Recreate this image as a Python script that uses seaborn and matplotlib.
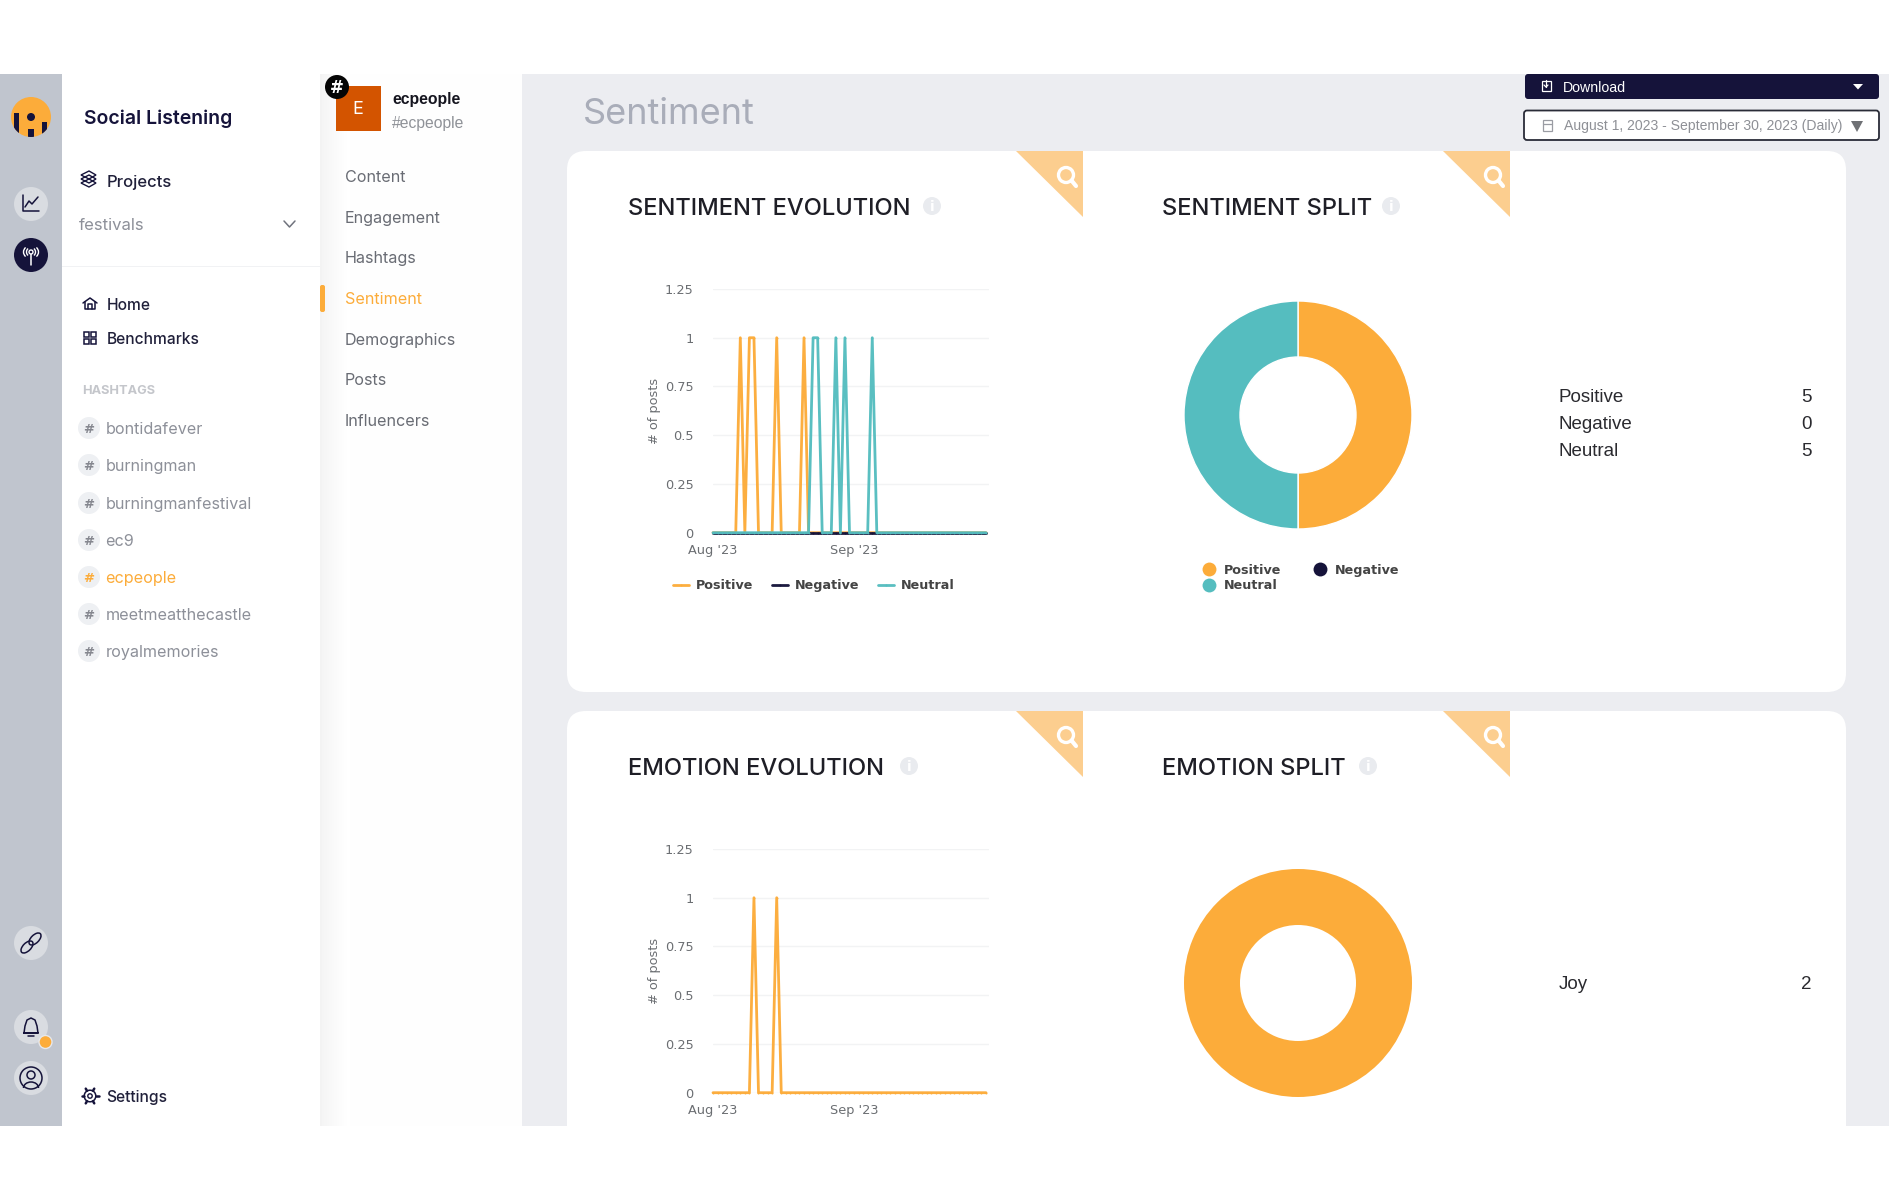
import matplotlib
matplotlib.use("Agg")
import matplotlib.pyplot as plt
import numpy as np
import pandas as pd
import seaborn as sns
from matplotlib.lines import Line2D
from matplotlib.patches import Circle, Ellipse, FancyBboxPatch, Polygon, Rectangle, Arc

# ---------- data ----------
days = pd.date_range("2023-08-01", "2023-09-30", freq="D")
positive = [0,0,0,0,0,0,1,0,1,1,0,0,0,0,1,0,0,0,0,0,1,0,0,0,0,0,0,0,0,0,0,
            0,0,0,0,0,0,0,0,0,0,0,0,0,0,0,0,0,0,0,0,0,0,0,0,0,0,0,0,0,0]
negative = [0,0,0,0,0,0,0,0,0,0,0,0,0,0,0,0,0,0,0,0,0,0,0,0,0,0,0,0,0,0,0,
            0,0,0,0,0,0,0,0,0,0,0,0,0,0,0,0,0,0,0,0,0,0,0,0,0,0,0,0,0,0]
neutral  = [0,0,0,0,0,0,0,0,0,0,0,0,0,0,0,0,0,0,0,0,0,0,1,1,0,0,0,1,0,1,0,
            0,0,0,0,1,0,0,0,0,0,0,0,0,0,0,0,0,0,0,0,0,0,0,0,0,0,0,0,0,0]
joy      = [0,0,0,0,0,0,0,0,0,1,0,0,0,0,1,0,0,0,0,0,0,0,0,0,0,0,0,0,0,0,0,
            0,0,0,0,0,0,0,0,0,0,0,0,0,0,0,0,0,0,0,0,0,0,0,0,0,0,0,0,0,0]
sentiment_labels = ["Positive", "Negative", "Neutral"]
sentiment_totals = [5, 0, 5]
emotion_labels = ["Joy"]
emotion_totals = [2]
y_ticks = [0, 0.25, 0.5, 0.75, 1, 1.25]
y_tick_labels = ["0", "0.25", "0.5", "0.75", "1", "1.25"]
x_ticks = ["2023-08-01", "2023-09-01"]
x_tick_labels = ["Aug '23", "Sep '23"]
hashtags = ["bontidafever", "burningman", "burningmanfestival", "ec9",
            "ecpeople", "meetmeatthecastle", "royalmemories"]
menu_items = ["Content", "Engagement", "Hashtags", "Sentiment",
              "Demographics", "Posts", "Influencers"]

ORANGE, NAVY, TEAL = "#FCAC3A", "#15133A", "#55BDBF"
sns.set_style("white")
plt.rcParams["font.family"] = ["DejaVu Sans"]

W, H = 1890, 1200
fig = plt.figure(figsize=(W / 100, H / 100), dpi=100, facecolor="white")
ui = fig.add_axes([0, 0, 1, 1], zorder=0)
ui.set_xlim(0, W); ui.set_ylim(H, 0); ui.axis("off")

TOP, BOT = 74, 1126
MONT, SANS, HELV = "Inter", "Inter", "Liberation Sans"


def rect(x0, y0, x1, y1, color, z=1):
    return ui.add_patch(Rectangle((x0, y0), x1 - x0, y1 - y0, fc=color, ec="none", zorder=z))


def rbox(x0, y0, x1, y1, r, fc, ec="none", lw=0, z=2):
    ui.add_patch(FancyBboxPatch((x0 + r, y0 + r), x1 - x0 - 2 * r, y1 - y0 - 2 * r,
                                boxstyle=f"round,pad={r},rounding_size={r}",
                                fc=fc, ec=ec, lw=lw, zorder=z))


def circ(x, y, r, fc, ec="none", lw=0, z=3):
    return ui.add_patch(Circle((x, y), r, fc=fc, ec=ec, lw=lw, zorder=z))


def txt(x, y, s, size, color, font=SANS, weight="normal", ha="left", z=5, **kw):
    # y is the visual middle of the capitals; the baseline sits half a cap height below
    ui.text(x, y + 0.5 * size, s, fontsize=size, color=color, family=font, weight=weight,
            ha=ha, va="baseline", zorder=z, **kw)


def stroke(xs, ys, color=NAVY, lw=1.1, z=5):
    ui.plot(xs, ys, color=color, lw=lw, zorder=z, solid_capstyle="round",
            solid_joinstyle="round")


# ---------- panels ----------
rect(0, TOP, 62, BOT, "#C0C5CE")
rect(62, TOP, 320, BOT, "#FFFFFF")
rect(320, TOP, 522, BOT, "#FEFEFE")
ui.imshow(np.linspace(0.955, 1, 30)[None, :], extent=(320, 350, BOT, TOP), cmap="gray",
          vmin=0, vmax=1, aspect="auto", zorder=1.5)
rect(522, TOP, W, BOT, "#ECEDF1")
ui.set_xlim(0, W); ui.set_ylim(H, 0)
rect(62, 265.5, 320, 267, "#F1F2F4", z=2)

# ---------- far-left rail ----------
logo = circ(31, 117, 20, ORANGE)
circ(31, 117, 4, NAVY, z=4)
for x0, x1, y0, y1 in [(28, 34, 129, 140), (13.5, 18.5, 113, 140), (41.5, 47, 122, 140)]:
    rect(x0, y0, x1, y1, NAVY, z=4).set_clip_path(logo)
circ(31, 204, 17, "#D9DCE1")
stroke([23, 23, 39], [195, 211, 211]); stroke([25, 29, 32, 38], [207, 201, 204, 197])
circ(31, 255, 17, NAVY)
stroke([31, 31], [253, 265], "white"); circ(31, 252, 2, NAVY, "white", 1, z=5)
ui.add_patch(Arc((31, 252), 9, 9, theta1=130, theta2=230, ec="white", lw=1, zorder=5))
ui.add_patch(Arc((31, 252), 9, 9, theta1=-50, theta2=50, ec="white", lw=1, zorder=5))
ui.add_patch(Arc((31, 252), 15, 13, theta1=140, theta2=220, ec="white", lw=1, zorder=5))
ui.add_patch(Arc((31, 252), 15, 13, theta1=-40, theta2=40, ec="white", lw=1, zorder=5))
circ(31, 943, 17, "#D9DCE1")
for dx in (-4, 4):
    ui.add_patch(Ellipse((31 + dx, 943 - dx), 15, 8, angle=-45, fc="none", ec=NAVY, lw=1.1, zorder=5))
circ(31, 1027, 17, "#D9DCE1")
stroke([24, 25, 27, 31, 35, 37, 38, 24, 38], [1033, 1026, 1020, 1018, 1020, 1026, 1033, 1033, 1033])
stroke([28, 34], [1036, 1036])
circ(45.5, 1042, 6.5, ORANGE, "#E6E8EC", 1, z=4)
circ(31, 1078, 17, "#D9DCE1")
circ(31, 1078, 11, "none", NAVY, 1.1, z=5); circ(31, 1075, 4, "none", NAVY, 1.1, z=5)
ui.add_patch(Arc((31, 1088), 15, 12, theta1=180, theta2=360, ec=NAVY, lw=1.1, zorder=5))

# ---------- nav ----------
txt(84, 117, "Social Listening", 14, NAVY, MONT, "semibold")
for dy in (-1, 3, 7):
    ui.add_patch(Polygon([(81, 176 + dy), (89, 172 + dy), (96, 176 + dy), (89, 180 + dy)],
                         closed=True, fc="none", ec=NAVY, lw=1, zorder=5))
txt(107, 181, "Projects", 12, "#20203A", SANS, "medium")
txt(79, 224.5, "festivals", 12, "#8D9099", MONT)
stroke([284, 289.5, 295], [221, 227, 221], "#70737D")
stroke([83, 90, 97], [303, 298, 303]); stroke([85, 85, 95, 95], [302, 309, 309, 302]); stroke([88, 88, 92, 92], [309, 304, 304, 309])
txt(106.5, 304, "Home", 11.2, "#20203A", SANS, "medium")
for dx, dy in [(84, 331.5), (91, 331.5), (84, 338.5), (91, 338.5)]:
    ui.add_patch(Rectangle((dx, dy), 5, 5, fc="none", ec=NAVY, lw=1.1, zorder=5))
txt(106.5, 338, "Benchmarks", 11.2, "#20203A", SANS, "medium")
txt(82, 389.5, "HASHTAGS", 9.2, "#C4C6CB", SANS, "bold")
tag_y = [428, 465, 503, 540, 577, 614, 651]
for y, tag in zip(tag_y, hashtags):
    hot = tag == "ecpeople"
    circ(89, y, 11, "#EEF0F3")
    txt(89, y, "#", 9.5, ORANGE if hot else "#85878F", "DejaVu Sans", "bold", ha="center")
    txt(105.5, y, tag, 11.6, ORANGE if hot else "#8D9099", MONT)
x, y = 90, 1096
circ(x, y, 5.8, "none", NAVY, 1.1, z=5); circ(x, y, 2.2, "none", NAVY, 1, z=5)
for t in np.arange(0, 360, 60):
    r = np.deg2rad(t)
    stroke([x + 6 * np.cos(r), x + 8.5 * np.cos(r)], [y + 6 * np.sin(r), y + 8.5 * np.sin(r)], lw=1.8)
txt(106.5, 1096, "Settings", 11.2, "#20203A", SANS, "medium")

# ---------- second panel ----------
rect(336, 86, 381, 131, "#D35400", z=3)
txt(358, 108, "E", 13, "white", SANS, ha="center")
circ(337, 87, 12, "#050505", z=4)
txt(337, 87, "#", 12, "white", "DejaVu Sans", "bold", ha="center")
txt(392, 98, "ecpeople", 11.3, "#15151F", HELV, "bold")
txt(392, 122, "#ecpeople", 11.3, "#8F9298", HELV)
menu_y = [176.5, 217, 257, 298, 339, 379, 420]
for y, m in zip(menu_y, menu_items):
    txt(345, y, m, 11.6, ORANGE if m == "Sentiment" else "#696C74", MONT)
rbox(320, 285, 325, 312, 2, ORANGE, z=4)

# ---------- header ----------
txt(583, 111, "Sentiment", 26, "#A9ADB9", MONT)
rbox(1525, 74, 1879, 99, 3, NAVY)
rbox(1524, 110.5, 1879, 140, 3, "white", "#2A2C38", 1.3)
ui.add_patch(Rectangle((1541.5, 81), 9, 10, fc="none", ec="white", lw=0.9, zorder=5))
stroke([1546, 1546], [80, 87], "white", 0.9); stroke([1544, 1546, 1548], [85, 87, 85], "white", 0.9)
txt(1563, 86.5, "Download", 10.2, "white", HELV)
ui.add_patch(Polygon([(1853, 84), (1863, 84), (1858, 89.5)], fc="white", ec="none", zorder=5))
ui.add_patch(Rectangle((1543, 120), 8.5, 11, fc="none", ec="#9A9CA3", lw=0.9, zorder=5))
stroke([1543, 1551.5], [123.5, 123.5], "#9A9CA3", 0.9)
txt(1563.5, 125, "August 1, 2023 - September 30, 2023 (Daily)", 10.05, "#8E9096", HELV)
ui.add_patch(Polygon([(1851, 121), (1863, 121), (1857, 132)], fc="#6F7175", ec="none", zorder=5))

# ---------- cards ----------
for y0, y1 in [(151, 692), (711, 1160)]:
    rbox(567, y0, 1846, y1, 19, "white", z=2)
rect(0, BOT, W, H, "white", z=4)
rect(0, 0, W, TOP, "white", z=1.8)
for y0 in (151, 711):
    for xr in (1083, 1510):
        ui.add_patch(Polygon([(xr - 67, y0), (xr, y0), (xr, y0 + 66)], fc="#FCCE8F", ec="none", zorder=3))
        cx, cy = xr - 17, y0 + 24
        circ(cx, cy, 7.5, "none", "white", 2.4, z=4)
        stroke([cx + 5.5, cx + 10], [cy + 5.5, cy + 11], "white", 3)
titles = [(628, 206, "SENTIMENT EVOLUTION", 932), (1162, 206, "SENTIMENT SPLIT", 1391),
          (628, 766, "EMOTION EVOLUTION", 909), (1162, 766, "EMOTION SPLIT", 1368)]
for x, y, t, ix in titles:
    txt(x, y, t, 17.1, "#1E1E26", MONT, "medium")
    circ(ix, y, 9, "#E9EBEF")
    txt(ix, y, "i", 10, "white", "DejaVu Sans", "bold", ha="center")


def axes_px(x0, y0, x1, y1, z=6):
    ax = fig.add_axes([x0 / W, 1 - y1 / H, (x1 - x0) / W, (y1 - y0) / H], zorder=z)
    ax.patch.set_alpha(0)
    return ax


def evolution(y_top, y_bot, frames, palette, legend):
    ax = axes_px(713, y_top, 989, y_bot)
    df = pd.concat([pd.DataFrame({"date": days, "posts": v, "series": n}) for n, v in frames])
    sns.lineplot(data=df, x="date", y="posts", hue="series", palette=palette, ax=ax,
                 linewidth=2.0, errorbar=None, legend=legend, clip_on=False,
                 alpha=0.97, marker="o", markersize=1.4, markeredgewidth=0)
    ax.set_xlim(days[0], days[0] + pd.Timedelta(days=60.66))
    ax.set_ylim(0, 1.25)
    ax.set_yticks(y_ticks, y_tick_labels)
    ax.set_xticks(pd.to_datetime(x_ticks), x_tick_labels)
    ax.grid(axis="y", color="#F2F3F4", lw=1)
    ax.grid(axis="x", visible=False)
    ax.set_axisbelow(True)
    sns.despine(ax=ax, left=True, bottom=True, top=True, right=True)
    ax.tick_params(axis="y", length=0, pad=14, labelsize=9.3, labelcolor="#6B6E72")
    ax.tick_params(axis="x", length=3.2, width=0.8, color="#CCD6EB", pad=5, labelsize=9.3, labelcolor="#6B6E72")
    for lab in ax.get_yticklabels():
        lab.set_verticalalignment("center_baseline")
    ax.set_xlabel("")
    ax.set_ylabel("# of posts", fontsize=9.3, color="#6B6E72", labelpad=3)
    if legend:
        sns.move_legend(ax, "center", bbox_to_anchor=(0.365, -0.218), ncol=3, frameon=False,
                        title=None, columnspacing=1.45, handlelength=1.3,
                        handletextpad=0.5, labelcolor="#444444",
                        prop={"weight": "bold", "size": 9.2})
    return ax


pal = dict(zip(sentiment_labels, [ORANGE, NAVY, TEAL]))
evolution(289, 532.7, list(zip(sentiment_labels, [positive, negative, neutral])), pal, True)
evolution(849, 1092.7, [("Joy", joy)], {"Joy": ORANGE}, False)


def donut(cx, cy, values, colors):
    R = 114
    ax = axes_px(cx - R, cy - R, cx + R, cy + R)
    ax.pie(values, colors=colors, startangle=90, counterclock=False, radius=1,
           wedgeprops=dict(width=56 / R, edgecolor="white", linewidth=1 if len(values) > 1 else 0))
    ax.set_xlim(-1, 1); ax.set_ylim(-1, 1)
    return ax


d1 = donut(1298, 415, sentiment_totals, [ORANGE, NAVY, TEAL])
donut(1298, 983, emotion_totals, [ORANGE])
handles = [Line2D([], [], ls="", marker="o", ms=10, mec="none", mfc=c, label=n)
           for n, c in [("Positive", ORANGE), ("Neutral", TEAL), ("Negative", NAVY)]]
d1.legend(handles=handles, ncol=2, frameon=False, loc="center", bbox_to_anchor=(0.5, -0.214),
          prop={"weight": "bold", "size": 9.2}, labelcolor="#444444", labelspacing=0.2,
          columnspacing=2.0, handletextpad=0.2)

for y, n, v in zip([395, 422, 449.5], sentiment_labels, sentiment_totals):
    txt(1559, y, n, 13.5, "#2A2A2F", HELV)
    txt(1812, y, str(v), 13.5, "#2A2A2F", HELV, ha="right")
for n, v in zip(emotion_labels, emotion_totals):
    txt(1559, 982, n, 13.5, "#2A2A2F", HELV)
    txt(1812, 982, str(v), 13.5, "#2A2A2F", HELV, ha="right")

fig.savefig("out.png", dpi=100, facecolor="white")
